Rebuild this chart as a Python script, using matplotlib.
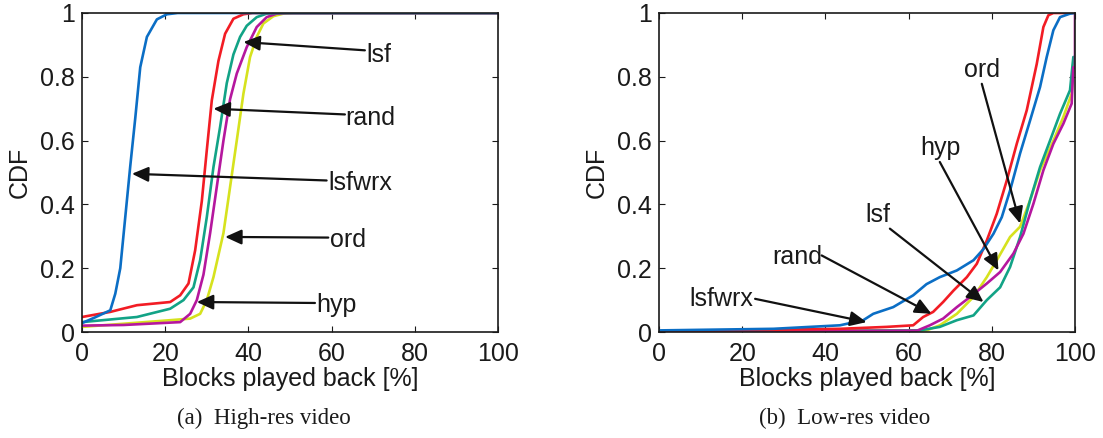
import matplotlib
matplotlib.use("Agg")
import matplotlib.pyplot as plt

plt.rcParams['font.family'] = ['Liberation Sans', 'DejaVu Sans']

# colours of the five schemes
C_BLUE = '#0b6ec5'
C_RED = '#f21c24'
C_TEAL = '#12a386'
C_MAG = '#b5179e'
C_YEL = '#d6e21e'

# ---- (a) high-res video: blocks played back [%] vs CDF ----
hi_lsfwrx_x = [0, 3, 6.8, 8, 9.2, 10.4, 11.6, 12.8, 14, 15.6, 18, 20.4, 23, 100]
hi_lsfwrx_y = [0.028, 0.045, 0.068, 0.12, 0.2, 0.36, 0.52, 0.67, 0.83, 0.925, 0.98, 0.996, 1, 1]

hi_rand_x = [0, 6.8, 13.2, 21.2, 23.6, 25.6, 27.2, 28.8, 30, 31.2, 32.8, 34.4, 36.4, 38.8, 41, 100]
hi_rand_y = [0.047, 0.063, 0.084, 0.094, 0.115, 0.152, 0.256, 0.41, 0.57, 0.726, 0.85, 0.935,
             0.982, 0.996, 1, 1]

hi_lsf_x = [0, 13.2, 21.2, 24.4, 26.8, 28.4, 30, 31.6, 33.2, 34.8, 36.4, 38, 39.6, 42, 44.4, 47, 100]
hi_lsf_y = [0.031, 0.047, 0.073, 0.1, 0.14, 0.225, 0.36, 0.517, 0.643, 0.78, 0.87, 0.925,
            0.96, 0.987, 0.998, 1, 1]

hi_hyp_x = [0, 10, 23.6, 26, 27.6, 29.2, 30.8, 32.4, 34, 35.6, 37.2, 39.6, 42, 44.4, 46.8, 49, 100]
hi_hyp_y = [0.02, 0.022, 0.031, 0.057, 0.1, 0.18, 0.31, 0.455, 0.6, 0.73, 0.81, 0.893,
            0.956, 0.987, 0.998, 1, 1]

hi_ord_x = [0, 21.2, 26, 28.4, 30, 31.6, 34, 35.6, 37.2, 38.8, 40.4, 42, 43.6, 46, 48.4, 51, 100]
hi_ord_y = [0.016, 0.037, 0.042, 0.057, 0.1, 0.172, 0.31, 0.455, 0.6, 0.747, 0.862, 0.925,
            0.967, 0.99, 0.998, 1, 1]

# ---- (b) low-res video ----
lo_lsfwrx_x = [0, 27.5, 43.5, 49.1, 51.5, 56.3, 61.1, 64.3, 67.5, 71.6, 75.6, 78, 80.4, 82.4,
               84.4, 86.8, 89.2, 91.6, 93.2, 94.8, 96.4, 98.8, 100]
lo_lsfwrx_y = [0.005, 0.01, 0.021, 0.037, 0.057, 0.078, 0.115, 0.15, 0.172, 0.193, 0.225, 0.26,
               0.308, 0.36, 0.444, 0.56, 0.663, 0.768, 0.862, 0.946, 0.987, 0.998, 1]

lo_rand_x = [0, 43.5, 54.7, 61.1, 63.5, 65.9, 68.3, 70.8, 74, 76.4, 78.8, 81.2, 83.6, 86, 88.4,
             90.8, 92.4, 93.6, 94.8, 100]
lo_rand_y = [0.002, 0.01, 0.016, 0.021, 0.047, 0.063, 0.094, 0.13, 0.172, 0.214, 0.287, 0.371,
             0.475, 0.59, 0.695, 0.84, 0.956, 0.993, 1, 1]

lo_lsf_x = [0, 62.7, 67.5, 71.6, 75.6, 78.8, 82, 84.4, 86.8, 89.2, 91.6, 94, 96.4, 98.8, 99.6, 100]
lo_lsf_y = [0.001, 0.005, 0.016, 0.037, 0.052, 0.1, 0.14, 0.204, 0.298, 0.413, 0.517, 0.6,
            0.684, 0.758, 0.862, 0.862]

lo_hyp_x = [0, 62, 65.1, 68.3, 71.6, 74.8, 78.8, 82, 85.2, 87.6, 90, 92.4, 94.8, 97.2, 99.2,
            99.6, 100, 100]
lo_hyp_y = [0.002, 0.004, 0.021, 0.042, 0.078, 0.11, 0.152, 0.188, 0.246, 0.308, 0.402, 0.507,
            0.59, 0.653, 0.716, 0.83, 0.83, 1]

lo_ord_x = [0, 64.3, 67.5, 71.6, 75.6, 78.8, 81.2, 84.4, 86.8, 89.2, 91.6, 94.8, 97.2, 99.2,
            99.6, 100]
lo_ord_y = [0.001, 0.005, 0.021, 0.057, 0.11, 0.172, 0.225, 0.298, 0.33, 0.413, 0.507, 0.6,
            0.674, 0.747, 0.85, 0.85]

# annotation labels: (text, text x, text baseline y, arrow tail, arrow tip)
hi_notes = [
    ('lsf', 68.4, 0.846, (68.0, 0.883), (38.8, 0.909)),
    ('rand', 63.4, 0.650, (63.2, 0.682), (31.6, 0.70)),
    ('lsfwrx', 59.2, 0.444, (58.8, 0.475), (12.0, 0.496)),
    ('ord', 59.6, 0.266, (59.2, 0.296), (34.4, 0.298)),
    ('hyp', 56.2, 0.063, (56.0, 0.091), (27.6, 0.094)),
]
lo_notes = [
    ('ord', 73.3, 0.80, (77.6, 0.778), (86.8, 0.34)),
    ('hyp', 62.7, 0.554, (67.5, 0.533), (81.6, 0.193)),
    ('lsf', 49.5, 0.345, (55.5, 0.324), (78.0, 0.094)),
    ('rand', 27.3, 0.214, (39.1, 0.24), (65.5, 0.057)),
    ('lsfwrx', 7.3, 0.080, (23.1, 0.104), (49.9, 0.031)),
]

ticks_x = [0, 20, 40, 60, 80, 100]
ticks_y = [0, 0.2, 0.4, 0.6, 0.8, 1]
tick_lbl_y = ['0', '0.2', '0.4', '0.6', '0.8', '1']

fig = plt.figure(figsize=(11.03, 4.38), dpi=100)
ax1 = fig.add_axes([82 / 1103, 106 / 438, 416 / 1103, 319 / 438])
ax2 = fig.add_axes([659 / 1103, 106 / 438, 416 / 1103, 319 / 438])

LW = 1.9


def draw_panel(ax, curves, notes):
    for x, y, c in curves:
        ax.plot(x, y, color=c, lw=LW, solid_joinstyle='round')
    for txt, tx, ty, tail, tip in notes:
        ax.text(tx, ty, txt, fontsize=18, ha='left', va='baseline', color='#1a1a1a')
        ax.annotate('', xy=tip, xytext=tail,
                    arrowprops=dict(arrowstyle='-|>,head_length=0.55,head_width=0.25',
                                    mutation_scale=18, lw=1.6, color='#111111',
                                    shrinkA=0, shrinkB=0))
    ax.set_xlim(0, 100)
    ax.set_ylim(0, 1)
    ax.set_xticks(ticks_x)
    ax.set_yticks(ticks_y)
    ax.set_yticklabels(tick_lbl_y)
    ax.tick_params(direction='in', length=4, width=0.8, labelsize=18, top=True, right=True,
                   colors='#1a1a1a')
    ax.tick_params(axis='x', pad=7)
    ax.tick_params(axis='y', pad=5)
    for s in ax.spines.values():
        s.set_linewidth(1.2)
        s.set_color('#1a1a1a')
    ax.set_xlabel('Blocks played back [%]', fontsize=18, labelpad=1, color='#1a1a1a')
    ax.set_ylabel('CDF', fontsize=18, labelpad=6, color='#1a1a1a')


draw_panel(ax1, [(hi_ord_x, hi_ord_y, C_YEL), (hi_hyp_x, hi_hyp_y, C_MAG),
                 (hi_lsf_x, hi_lsf_y, C_TEAL), (hi_rand_x, hi_rand_y, C_RED),
                 (hi_lsfwrx_x, hi_lsfwrx_y, C_BLUE)], hi_notes)
draw_panel(ax2, [(lo_ord_x, lo_ord_y, C_YEL), (lo_lsf_x, lo_lsf_y, C_TEAL),
                 (lo_hyp_x, lo_hyp_y, C_MAG), (lo_rand_x, lo_rand_y, C_RED),
                 (lo_lsfwrx_x, lo_lsfwrx_y, C_BLUE)], lo_notes)

fig.text(264 / 1103, 1 - 418 / 438, '(a)  High-res video', fontsize=16.5,
         family='Liberation Serif', ha='center', va='center', color='#1a1a1a')
fig.text(845 / 1103, 1 - 418 / 438, '(b)  Low-res video', fontsize=16.5,
         family='Liberation Serif', ha='center', va='center', color='#1a1a1a')

fig.savefig('out.png', dpi=100)
